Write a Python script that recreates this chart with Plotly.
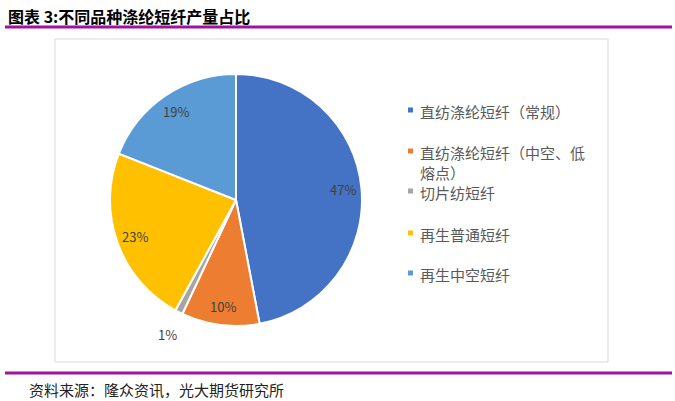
import numpy as np
import plotly.graph_objects as go

labels = ["直纺涤纶短纤（常规）", "直纺涤纶短纤（中空、低<br>熔点）", "切片纺短纤", "再生普通短纤", "再生中空短纤"]
values = [47, 10, 1, 23, 19]
colors = ["#4472C4", "#ED7D31", "#A5A5A5", "#FFC000", "#5B9BD5"]
title_text = "图表 3:不同品种涤纶短纤产量占比"
source_text = "资料来源：隆众资讯，光大期货研究所"

W, H = 675, 401
cx, cy, R = 236, 200, 126  # pixel centre / radius of the pie

fig = go.Figure()
fig.add_trace(go.Pie(
    labels=labels, values=values, sort=False, direction="clockwise", rotation=0,
    marker=dict(colors=colors, line=dict(color="white", width=2)),
    textinfo="none", hoverinfo="label+percent", showlegend=False,
    domain=dict(x=[(cx - R) / W, (cx + R) / W], y=[(H - cy - R) / H, (H - cy + R) / H]),
))

# percentage labels placed along each slice's mid-angle
vals = np.array(values, dtype=float)
frac = vals / vals.sum()
mid = np.cumsum(frac) - frac / 2
ann = []
for f, m in zip(frac, mid):
    ang = 2 * np.pi * m
    r = R * (0.85 if f > 0.03 else 1.2)
    px = cx + r * np.sin(ang)
    py = cy - r * np.cos(ang)
    ann.append(dict(x=px / W, y=1 - py / H, xref="paper", yref="paper",
                    text=f"{round(f*100)}%", showarrow=False,
                    font=dict(size=13, color="#404040", family="Noto Sans CJK SC"),
                    xanchor="center", yanchor="middle"))

# legend drawn manually
leg_y = [110, 151, 191, 233, 273]
shapes = []
for lab, col, y in zip(labels, colors, leg_y):
    shapes.append(dict(type="rect", xref="paper", yref="paper",
                       x0=408 / W, x1=413 / W, y0=1 - (y + 2.5) / H, y1=1 - (y - 2.5) / H,
                       fillcolor=col, line=dict(width=0)))
    ann.append(dict(x=418 / W, y=1 - (y - 11) / H, xref="paper", yref="paper",
                    text=lab, showarrow=False, align="left",
                    font=dict(size=15, color="#595959", family="Noto Sans CJK SC"),
                    xanchor="left", yanchor="top"))

# chart frame
shapes.append(dict(type="rect", xref="paper", yref="paper",
                   x0=55 / W, x1=608 / W, y0=1 - 362 / H, y1=1 - 39 / H,
                   line=dict(color="#D9D9D9", width=1)))
# purple rules
shapes.append(dict(type="line", xref="paper", yref="paper",
                   x0=5 / W, x1=672 / W, y0=1 - 27 / H, y1=1 - 27 / H,
                   line=dict(color="#A0129E", width=3)))
shapes.append(dict(type="line", xref="paper", yref="paper",
                   x0=5 / W, x1=672 / W, y0=1 - 373 / H, y1=1 - 373 / H,
                   line=dict(color="#A0129E", width=3)))

ann.append(dict(x=6 / W, y=1 - 16 / H, xref="paper", yref="paper", text="<b>" + title_text + "</b>",
                showarrow=False, xanchor="left", yanchor="middle",
                font=dict(size=16, color="#000000", family="Noto Sans CJK SC")))
ann.append(dict(x=27 / W, y=1 - 389 / H, xref="paper", yref="paper", text=source_text,
                showarrow=False, xanchor="left", yanchor="middle",
                font=dict(size=15, color="#222222", family="Noto Sans CJK SC")))

fig.update_layout(width=W, height=H, margin=dict(l=0, r=0, t=0, b=0),
                  paper_bgcolor="white", plot_bgcolor="white",
                  annotations=ann, shapes=shapes)
fig.write_html("out.html")
